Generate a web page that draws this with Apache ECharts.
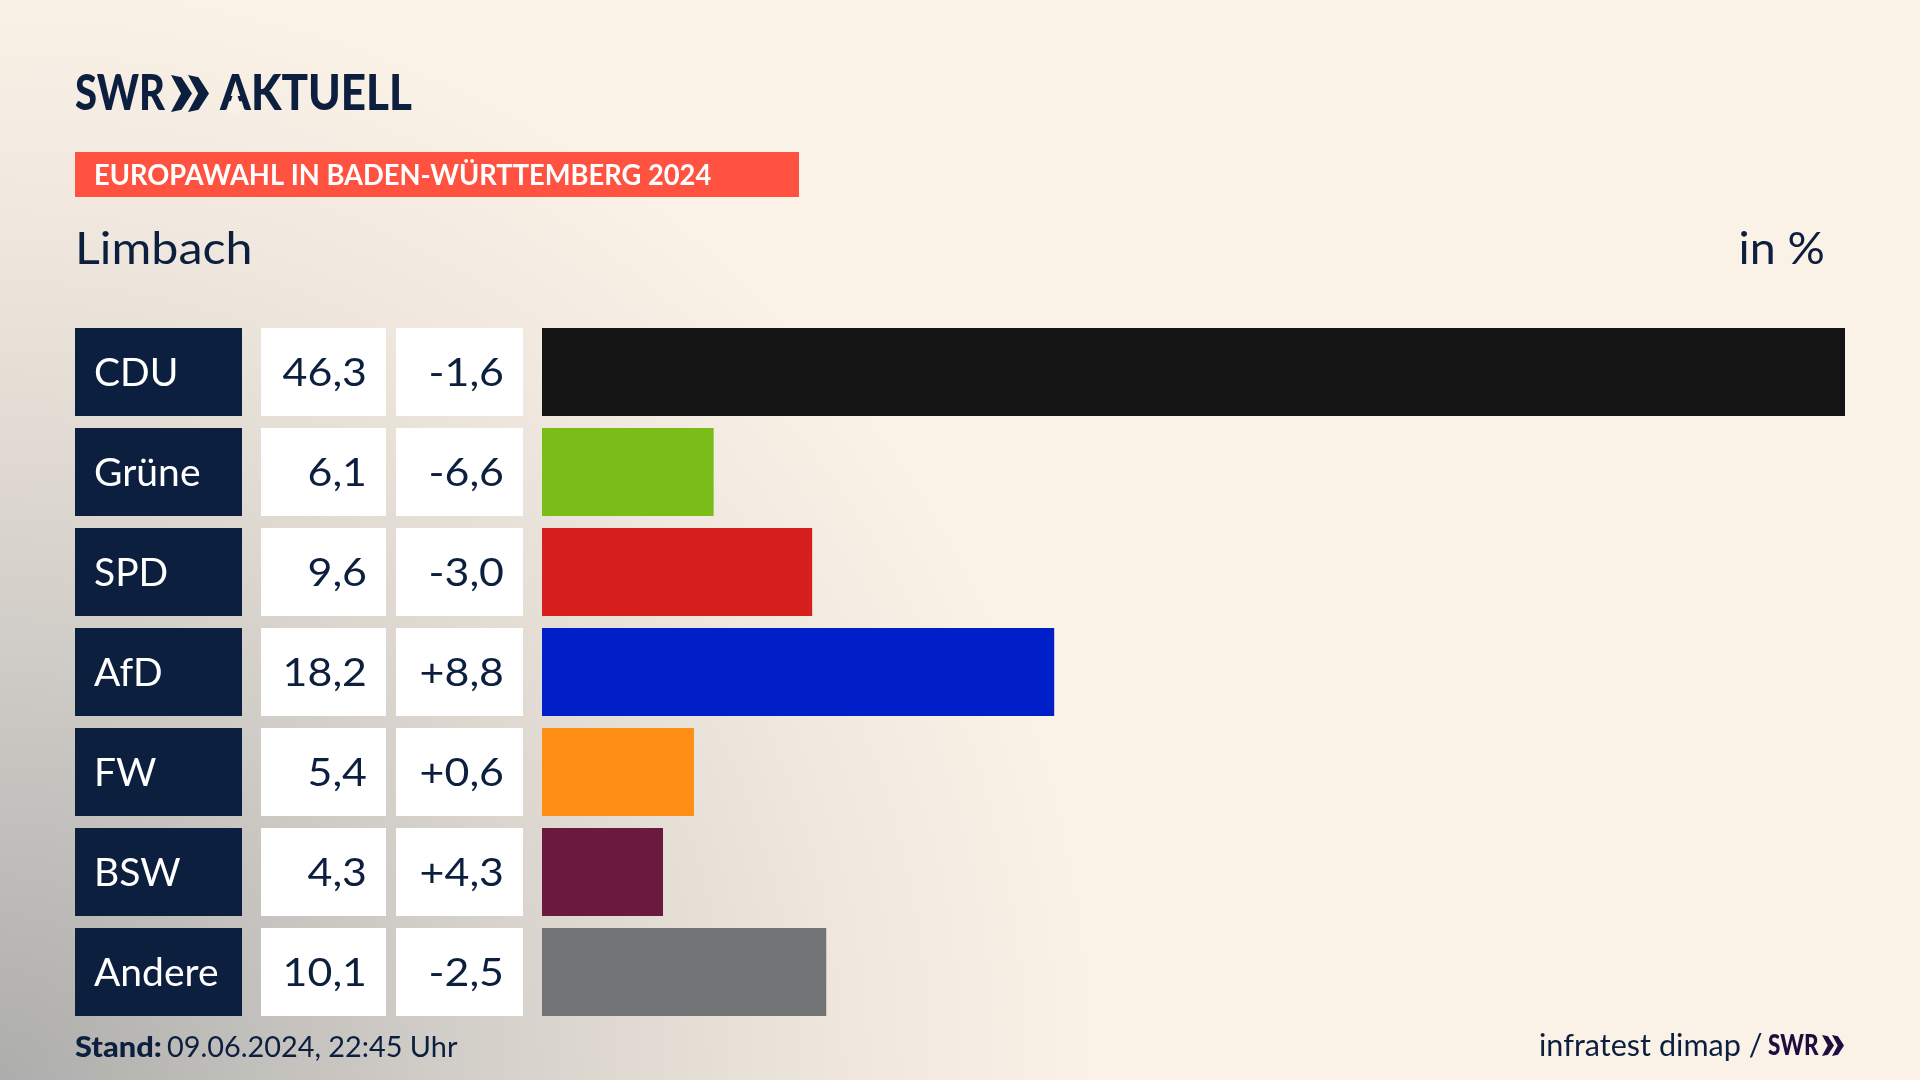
<!DOCTYPE html>
<html>
<head>
<meta charset="utf-8">
<title>Europawahl Limbach</title>
<script src="https://cdn.jsdelivr.net/npm/echarts@6/dist/echarts.min.js"></script>
<style>
    html, body { margin: 0; padding: 0; background: #faf1e7; }
    #main { width: 1920px; height: 1080px; }
</style>
</head>
<body>
<div id="main"></div>
<script>
const parties = ['CDU', 'Grüne', 'SPD', 'AfD', 'FW', 'BSW', 'Andere'];
const shares = [46.3, 6.1, 9.6, 18.2, 5.4, 4.3, 10.1];
const changes = ['-1,6', '-6,6', '-3,0', '+8,8', '+0,6', '+4,3', '-2,5'];
const barColors = ['#141414', '#7abd19', '#d71f1d', '#001fc8', '#ff8e14', '#6a1a3e', '#727375'];

const NAVY = '#0c1f3f';
const FONT = 'Lato';

const myChart = echarts.init(document.getElementById('main'), null, { renderer: 'canvas' });

function headerText(text, x, y, size, weight, fill, scaleX, align) {
    return {
        type: 'text',
        x: x,
        y: y,
        scaleX: scaleX || 1,
        style: {
            text: text,
            fill: fill,
            align: align || 'left',
            verticalAlign: 'middle',
            font: weight + ' ' + size + 'px ' + FONT
        }
    };
}

// the two arrows of the SWR logo
function chevron(x, y, w, h, fill) {
    return {
        type: 'polygon',
        shape: {
            points: [[x, y], [x + w * 0.5, y + h * 0.06], [x + w, y + h / 2], [x + w * 0.5, y + h * 0.94], [x, y + h], [x + w * 0.48, y + h / 2]]
        },
        style: { fill: fill }
    };
}

const option = {
    animation: false,
    backgroundColor: '#faf1e7',
    grid: { left: 542, top: 322, width: 1303, height: 700, containLabel: false },
    xAxis: { type: 'value', min: 0, max: 46.3, show: false },
    yAxis: { type: 'category', data: parties, inverse: true, show: false },
    graphic: {
        elements: [
            {
                type: 'rect',
                z: -10,
                silent: true,
                shape: { x: 0, y: 0, width: 1920, height: 1080 },
                style: {
                    fill: new echarts.graphic.RadialGradient(0, 1080, 1150, [
                        { offset: 0, color: '#adadab' },
                        { offset: 0.3, color: '#c9c6c2' },
                        { offset: 0.55, color: '#e0dad2' },
                        { offset: 0.75, color: '#f0e8de' },
                        { offset: 0.95, color: '#faf1e7' }
                    ], true)
                }
            },
            headerText('SWR', 75, 94, 50, '900', NAVY, 0.8),
            chevron(171, 75, 21, 37, NAVY),
            chevron(188, 75, 21, 37, NAVY),
            headerText('AKTUELL', 220, 94, 50, '900', NAVY, 0.88),
            // opens the counter of the logo's A, it has no crossbar
            { type: 'polygon', shape: { points: [[235, 88], [227, 113], [243, 113]] }, style: { fill: '#f9f0e6' } },
            { type: 'rect', shape: { x: 75, y: 152, width: 724, height: 45 }, style: { fill: '#ff5240' } },
            headerText('EUROPAWAHL IN BADEN-WÜRTTEMBERG 2024', 94, 176, 28, 'bold', '#ffffff', 0.975),
            headerText('Limbach', 75, 250, 44, 'normal', NAVY, 1.1),
            headerText('in %', 1825, 250, 44, 'normal', NAVY, 1.06, 'right'),
            headerText('Stand:', 75, 1048, 28, '900', NAVY, 1.1),
            headerText('09.06.2024, 22:45 Uhr', 167, 1048, 28, 'normal', NAVY, 1.03),
            headerText('infratest dimap /', 1539, 1046, 30, 'normal', NAVY, 1.02),
            headerText('SWR', 1768, 1046, 28, '900', '#1f0c40', 0.8),
            chevron(1822, 1035, 12, 21, '#1f0c40'),
            chevron(1832, 1035, 12, 21, '#1f0c40')
        ]
    },
    series: [
        {
            type: 'bar',
            barWidth: 88,
            silent: true,
            data: shares.map((v, i) => ({ value: v, itemStyle: { color: barColors[i] } }))
        },
        {
            // table cells left of the bars, one row per party
            type: 'custom',
            silent: true,
            clip: false,
            coordinateSystem: 'cartesian2d',
            encode: { x: 0, y: 1 },
            data: parties.map((p, i) => [0, i]),
            renderItem: function (params, api) {
                const i = api.value(1);
                const cy = api.coord([0, i])[1];
                const h = 88;
                const top = cy - h / 2;
                const cell = (x, w, fill) => ({
                    type: 'rect',
                    shape: { x: x, y: top, width: w, height: h },
                    style: { fill: fill }
                });
                const label = (text, x, align, fill, scaleX) => ({
                    type: 'text',
                    x: x,
                    y: cy + 1.5,
                    scaleX: scaleX,
                    style: {
                        text: text,
                        fill: fill,
                        align: align,
                        verticalAlign: 'middle',
                        font: 'normal 39px ' + FONT
                    }
                });
                return {
                    type: 'group',
                    children: [
                        cell(75, 167, NAVY),
                        cell(261, 125, '#ffffff'),
                        cell(396, 127, '#ffffff'),
                        label(parties[i], 94, 'left', '#ffffff', 1),
                        label(shares[i].toFixed(1).replace('.', ','), 367, 'right', NAVY, 1.1),
                        label(changes[i], 504, 'right', NAVY, 1.1)
                    ]
                };
            }
        }
    ]
};

myChart.setOption(option);
</script>
</body>
</html>
